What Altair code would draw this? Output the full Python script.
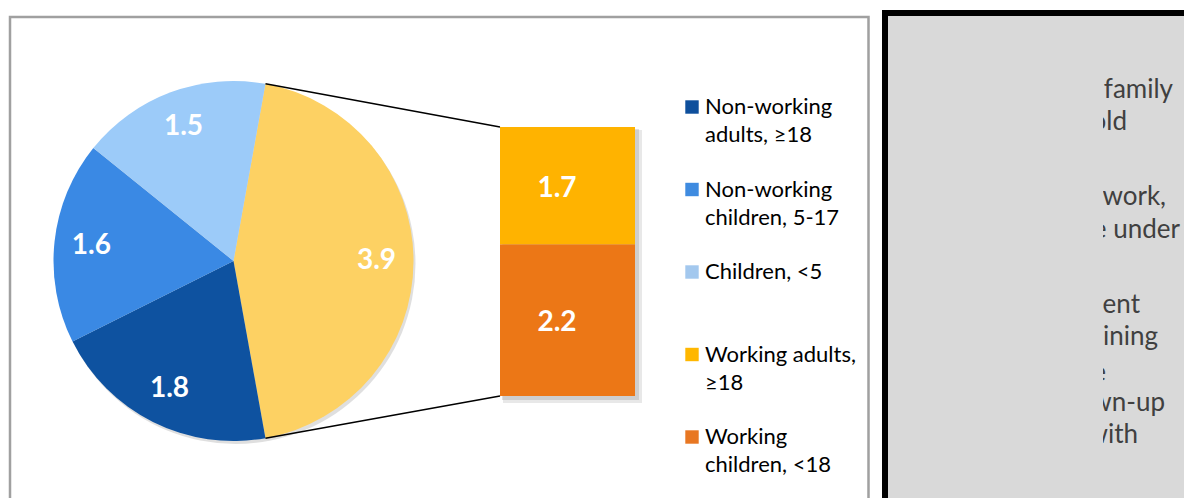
import math
import altair as alt
import pandas as pd

# ---------------- data ----------------
pie_groups = ["Working", "Non-working adults, ≥18", "Non-working children, 5-17", "Children, <5"]
pie_values = [3.9, 1.8, 1.6, 1.5]
pie_colors = ["#FDD163", "#0E52A0", "#3A89E4", "#9CCBF9"]

bar_groups = ["Working children, <18", "Working adults, ≥18"]
bar_values = [2.2, 1.7]
bar_colors = ["#EC7716", "#FFB300"]

legend_first = ["Non-working", "Non-working", "Children, <5", "Working adults,", "Working"]
legend_second = ["adults, ≥18", "children, 5-17", "", "≥18", "children, <18"]
legend_colors = ["#0E4F9C", "#3F8BE0", "#A3C8EE", "#FFB700", "#E87722"]

note_lines = ["a family", "household", "to work,", "are under", "dependent",
              "remaining", "the", "grown-up", "with"]

# ---------------- layout ----------------
W, H = 1176, 490
CX, CY, R = 225.5, 253.0, 180.0
BX0, BX1, BY_TOP, BY_BOT = 492, 627, 119, 388
FONT = "Lato"

note_y = [82, 114, 189, 222, 297, 329, 365, 395, 427]
note_xend = [1165, 1119, 1158, 1172, 1132, 1150, 1098, 1157, 1130]

total = sum(pie_values)
off = math.pi / 2 - math.pi * pie_values[0] / total

pie_df = pd.DataFrame({
    "idx": list(range(len(pie_values))),
    "group": pie_groups,
    "value": pie_values,
    "color": pie_colors,
    "label": [f"{v:.1f}" for v in pie_values],
})
bar_df = pd.DataFrame({
    "idx": list(range(len(bar_values))),
    "group": bar_groups,
    "value": bar_values,
    "color": bar_colors,
    "label": [f"{v:.1f}" for v in bar_values],
})
leg_df = pd.DataFrame({
    "idx": list(range(len(legend_first))),
    "first": legend_first,
    "second": legend_second,
    "color": legend_colors,
})
note_df = pd.DataFrame({"text": note_lines, "x": note_xend, "y": note_y})
one = pd.DataFrame({"a": [0]})

# connectors from split slice edges to bar corners
px = CX + R * math.sin(off)
conn_df = pd.DataFrame({
    "x": [px, px],
    "y": [CY - R * math.cos(off), CY + R * math.cos(off)],
    "x2": [BX0, BX0],
    "y2": [BY_TOP, BY_BOT],
})

ident = dict(scale=None, axis=None)

left_panel = alt.Chart(one).mark_rect(fill="white", stroke="#A0A0A0", strokeWidth=2.5).encode(
    x=alt.value(2), x2=alt.value(860.5), y=alt.value(9), y2=alt.value(700))
right_panel = alt.Chart(one).mark_rect(fill="#D9D9D9", stroke="black", strokeWidth=6).encode(
    x=alt.value(877), x2=alt.value(1400), y=alt.value(5), y2=alt.value(700))
note_text = alt.Chart(note_df).mark_text(
    align="right", baseline="middle", font=FONT, fontSize=26, color="#404040").encode(
    x=alt.X("x:Q", **ident), y=alt.Y("y:Q", **ident), text="text:N")
mask = alt.Chart(one).mark_rect(fill="#D9D9D9").encode(
    x=alt.value(881), x2=alt.value(1095), y=alt.value(9), y2=alt.value(700))

theta = alt.Theta("value:Q", stack=True, scale=alt.Scale(range=[off, off + 2 * math.pi]))

pie_shadow = alt.Chart(one).mark_arc(radius=R, theta=0, theta2=2 * math.pi,
                                      fill="#7F7F7F", opacity=0.25).encode(
    x=alt.value(CX + 2), y=alt.value(CY + 3))
pie = alt.Chart(pie_df).mark_arc(radius=R).encode(
    theta=theta, order=alt.Order("idx:Q"),
    color=alt.Color("color:N", scale=None),
    x=alt.value(CX), y=alt.value(CY))
pie_labels = alt.Chart(pie_df).mark_text(
    radius=143, font=FONT, fontSize=28, fontWeight="bold", color="white").encode(
    theta=theta, order=alt.Order("idx:Q"), text="label:N",
    x=alt.value(CX), y=alt.value(CY))

connectors = alt.Chart(conn_df).mark_rule(color="black", strokeWidth=1.5).encode(
    x=alt.X("x:Q", **ident), y=alt.Y("y:Q", **ident),
    x2="x2:Q", y2="y2:Q")

bar_scale = alt.Scale(domain=[0, sum(bar_values)], range=[BY_BOT, BY_TOP])
stacked = alt.Chart(bar_df).transform_stack(
    stack="value", groupby=[], as_=["y0", "y1"], sort=[alt.SortField("idx")])

bar_shadow1 = stacked.mark_rect(fill="#808080", opacity=0.18).encode(
    x=alt.value(BX0 + 3), x2=alt.value(BX1 + 7),
    y=alt.Y("y0:Q", scale=alt.Scale(domain=[0, sum(bar_values)], range=[BY_BOT + 7, BY_TOP + 3]), axis=None),
    y2="y1:Q")
bar_shadow2 = stacked.mark_rect(fill="#808080", opacity=0.25).encode(
    x=alt.value(BX0 + 2), x2=alt.value(BX1 + 4),
    y=alt.Y("y0:Q", scale=alt.Scale(domain=[0, sum(bar_values)], range=[BY_BOT + 4, BY_TOP + 2]), axis=None),
    y2="y1:Q")
bar = stacked.mark_rect().encode(
    x=alt.value(BX0), x2=alt.value(BX1),
    y=alt.Y("y0:Q", scale=bar_scale, axis=None), y2="y1:Q",
    color=alt.Color("color:N", scale=None))
bar_labels = stacked.transform_calculate(mid="(datum.y0 + datum.y1) / 2").mark_text(
    font=FONT, fontSize=28, fontWeight="bold", color="white", dy=3).encode(
    x=alt.value(549), y=alt.Y("mid:Q", scale=bar_scale, axis=None), text="label:N")

leg_scale = alt.Scale(domain=[0, len(legend_first) - 1], range=[99, 429])
leg_sq = alt.Chart(leg_df).mark_square(size=180, opacity=1).encode(
    x=alt.value(684), y=alt.Y("idx:Q", scale=leg_scale, axis=None),
    color=alt.Color("color:N", scale=None))
leg_t1 = alt.Chart(leg_df).mark_text(align="left", baseline="middle", font=FONT,
                                     fontSize=22, color="#000000").encode(
    x=alt.value(697), y=alt.Y("idx:Q", scale=leg_scale, axis=None), text="first:N")
leg_t2 = alt.Chart(leg_df).mark_text(align="left", baseline="middle", font=FONT,
                                     fontSize=22, color="#000000", dy=28).encode(
    x=alt.value(697), y=alt.Y("idx:Q", scale=leg_scale, axis=None), text="second:N")

chart = alt.layer(
    left_panel, right_panel, note_text, mask,
    pie_shadow, pie, pie_labels, connectors,
    bar_shadow1, bar_shadow2, bar, bar_labels,
    leg_sq, leg_t1, leg_t2,
).resolve_scale(x="independent", y="independent").properties(
    width=W, height=H,
    autosize=alt.AutoSizeParams(type="none"),
    padding=0,
).configure_view(stroke=None)

chart.save("out.html", embed_options={"renderer": "svg", "actions": False})
